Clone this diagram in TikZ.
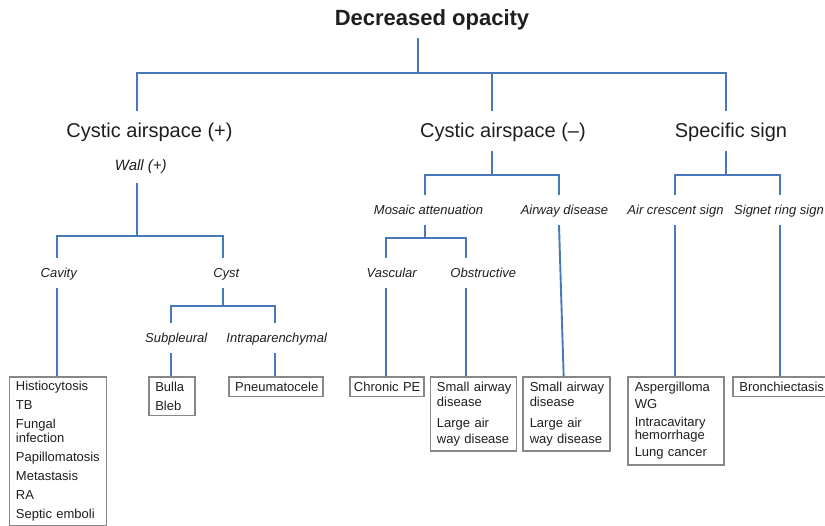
\documentclass[tikz,border=0pt]{standalone}
\usepackage{fontspec}
\setmainfont{Liberation Sans}
\definecolor{treeblue}{RGB}{72,120,186}
\definecolor{boxgray}{RGB}{135,135,135}
\definecolor{txt}{RGB}{30,30,30}
\tikzset{
  tree/.style={draw=treeblue, line width=1.9pt},
  titlenode/.style={anchor=base, font=\fontsize{22}{26}\selectfont\bfseries, text=txt, text height=16pt, text depth=0pt, inner ysep=12pt, inner xsep=0pt},
  lvlone/.style={anchor=base, font=\fontsize{20}{24}\selectfont, text=txt, text height=14pt, text depth=0pt, inner ysep=13pt, inner xsep=0pt},
  lbl/.style={anchor=base, font=\fontsize{13}{15}\selectfont\itshape, text=txt, text height=10pt, text depth=0pt, inner ysep=10pt, inner xsep=0pt},
  leaf/.style={draw=boxgray, line width=1.9pt, anchor=north west, align=left, font=\fontsize{13}{14}\selectfont, text=txt, inner xsep=6.5pt, inner ysep=5pt},
}
\begin{document}
\begin{tikzpicture}[x=1pt, y=-1pt]
\useasboundingbox (0,0) rectangle (825,526);
% headers
\node[titlenode] (title) at (432,26) {Decreased opacity};
\node[lvlone] (cplus) at (149.5,138) {Cystic airspace (+)};
\node[lvlone] (cminus) at (503,138) {Cystic airspace (\textendash)};
\node[lvlone] (spec) at (731,138) {Specific sign};
% italic labels
\node[lbl, font=\fontsize{15}{17}\selectfont\itshape, text height=11pt, inner ysep=12pt] (wall) at (140.8,171) {Wall (+)};
\node[lbl] (cavity) at (58.7,278) {Cavity};
\node[lbl] (cyst) at (226.3,278) {Cyst};
\node[lbl] (subpl) at (176.3,343) {Subpleural};
\node[lbl] (intra) at (276.7,343) {Intraparenchymal};
\node[lbl] (mosaic) at (428.5,215) {Mosaic attenuation};
\node[lbl] (airway) at (564.5,215) {Airway disease};
\node[lbl] (vasc) at (391.7,278) {Vascular};
\node[lbl] (obstr) at (483.3,278) {Obstructive};
\node[lbl] (aircr) at (675.5,215) {Air crescent sign};
\node[lbl] (signet) at (779,215) {Signet ring sign};
% leaf boxes
\node[leaf, text width=84pt, inner ysep=4.5pt] (hist) at (8.5,376) {Histiocytosis\\[5pt]TB\\[5pt]Fungal\\infection\\[5pt]Papillomatosis\\[5pt]Metastasis\\[5pt]RA\\[5pt]\mbox{Septic emboli}};
\node[leaf, text width=34pt, inner xsep=6pt] (bulla) at (148.3,376) {Bulla\\[5pt]Bleb};
\node[leaf, text width=81pt] (pneu) at (227.7,376) {Pneumatocele};
\node[leaf, text width=66pt, inner xsep=4pt] (chronic) at (349,376) {\mbox{Chronic PE}};
\node[leaf, text width=73pt, font=\fontsize{13}{15.5}\selectfont] (small1) at (429.5,376) {\mbox{Small airway}\\disease\\[5.5pt]\mbox{Large air}\\\mbox{way disease}};
\node[leaf, text width=74pt, font=\fontsize{13}{15.5}\selectfont] (small2) at (522.3,376) {\mbox{Small airway}\\disease\\[5.5pt]\mbox{Large air}\\\mbox{way disease}};
\node[leaf, text width=83pt, font=\fontsize{13}{13}\selectfont] (asp) at (627.3,376) {Aspergilloma\\[4.5pt]WG\\[4.5pt]Intracavitary\\hemorrhage\\[4.5pt]\mbox{Lung cancer}};
\node[leaf, text width=87pt] (bronch) at (732,376) {Bronchiectasis};
% title fork
\draw[tree] ([xshift=-14pt]title.south) -- ++(0,35) coordinate (b0);
\draw[tree] (b0) -| ([xshift=-12.8pt]cplus.north);
\draw[tree] (b0) -| ([xshift=-11.3pt]cminus.north);
\draw[tree] (b0) -| ([xshift=-4.7pt]spec.north);
% wall fork
\draw[tree] ([xshift=-4.1pt]wall.south) -- ++(0,53) coordinate (b1);
\draw[tree] (b1) -| ([xshift=-2pt]cavity.north);
\draw[tree] (b1) -| ([xshift=-3pt]cyst.north);
\draw[tree] ([xshift=-2pt]cavity.south) coordinate (t1) -- (t1 |- hist.north);
% cyst fork
\draw[tree] ([xshift=-3pt]cyst.south) -- ++(0,18) coordinate (b2);
\draw[tree] (b2) -| ([xshift=-5.3pt]subpl.north);
\draw[tree] (b2) -| ([xshift=-1.4pt]intra.north);
\draw[tree] ([xshift=-5.3pt]subpl.south) coordinate (t2) -- (t2 |- bulla.north);
\draw[tree] ([xshift=-1.4pt]intra.south) coordinate (t3) -- (t3 |- pneu.north);
% cystic minus fork
\draw[tree] ([xshift=-11.3pt]cminus.south) -- ++(0,24) coordinate (b3);
\draw[tree] (b3) -| ([xshift=-3.5pt]mosaic.north);
\draw[tree] (b3) -| ([xshift=-5.5pt]airway.north);
\draw[tree] ([xshift=-5.5pt]airway.south) -- ([xshift=-3.1pt]small2.north);
% mosaic fork
\draw[tree] ([xshift=-3.5pt]mosaic.south) -- ++(0,13) coordinate (b4);
\draw[tree] (b4) -| ([xshift=-6pt]vasc.north);
\draw[tree] (b4) -| ([xshift=-17pt]obstr.north);
\draw[tree] ([xshift=-6pt]vasc.south) coordinate (t4) -- (t4 |- chronic.north);
\draw[tree] ([xshift=-17pt]obstr.south) coordinate (t5) -- (t5 |- small1.north);
% specific sign fork
\draw[tree] ([xshift=-4.7pt]spec.south) -- ++(0,24) coordinate (b5);
\draw[tree] (b5) -| ([xshift=-0.5pt]aircr.north);
\draw[tree] (b5) -| ([xshift=1pt]signet.north);
\draw[tree] ([xshift=-0.5pt]aircr.south) coordinate (t6) -- (t6 |- asp.north);
\draw[tree] ([xshift=1pt]signet.south) coordinate (t7) -- (t7 |- bronch.north);
\end{tikzpicture}
\end{document}
